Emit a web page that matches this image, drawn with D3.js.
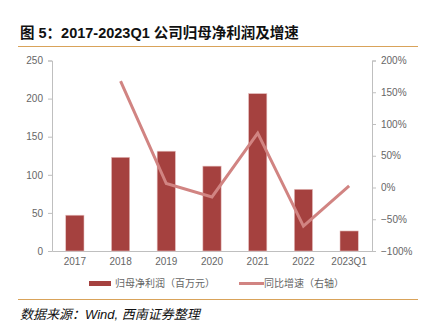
<!DOCTYPE html>
<html>
<head>
<meta charset="utf-8">
<script src="https://cdn.jsdelivr.net/npm/d3@7"></script>
<style>
  html, body { margin: 0; padding: 0; background: #fff; }
  svg { display: block; }
</style>
</head>
<body>
<svg id="chart" width="429" height="325"></svg>
<script>
// Net profit attributable to parent (million yuan) and YoY growth
const categories = ["2017", "2018", "2019", "2020", "2021", "2022", "2023Q1"];
const profit = [47, 123, 131, 111.4, 206.6, 81, 26.3];
const growth = [null, 167.6, 6.3, -14.8, 85.5, -60.8, 2.5];
const leftTicks = [0, 50, 100, 150, 200, 250];
const rightTicks = [-100, -50, 0, 50, 100, 150, 200];

const svg = d3.select("#chart");
const font = "Arial, 'Liberation Sans', 'Noto Sans CJK SC', sans-serif";
const grey = "#666666";
const axisGrey = "#bfbfbf";
const orange = "#d9a35a";

const plot = { left: 52, right: 372, top: 60.5, bottom: 251 };

const x = d3.scaleBand().domain(categories).range([plot.left, plot.right]).paddingInner(0.6).paddingOuter(0.3);
const yL = d3.scaleLinear().domain([0, 250]).range([plot.bottom, plot.top]);
const yR = d3.scaleLinear().domain([-100, 200]).range([plot.bottom, plot.top]);

// Title and rules
svg.append("text")
  .attr("x", 20).attr("y", 38)
  .attr("font-family", font)
  .attr("font-weight", "bold").attr("font-size", 14.5).attr("fill", "#111")
  .text("图 5：2017-2023Q1 公司归母净利润及增速");
svg.append("line").attr("x1", 18).attr("x2", 418).attr("y1", 46.5).attr("y2", 46.5)
  .attr("stroke", orange).attr("stroke-width", 1.2);
svg.append("line").attr("x1", 18).attr("x2", 418).attr("y1", 299.5).attr("y2", 299.5)
  .attr("stroke", orange).attr("stroke-width", 1.2);

// Axes
function styleAxis(g) {
  g.selectAll("path").attr("stroke", axisGrey);
  g.selectAll("line").attr("stroke", axisGrey);
  g.selectAll("text").attr("fill", grey).attr("font-size", 10).attr("font-family", font);
}
svg.append("g").attr("transform", `translate(${plot.left},0)`)
  .call(d3.axisLeft(yL).tickValues(leftTicks).tickSize(4).tickSizeOuter(4).tickPadding(5))
  .call(styleAxis);
svg.append("g").attr("transform", `translate(${plot.right},0)`)
  .call(d3.axisRight(yR).tickValues(rightTicks).tickSize(4).tickSizeOuter(4).tickPadding(5)
    .tickFormat(d => (d < 0 ? "\u2212" + Math.abs(d) : d) + "%"))
  .call(styleAxis);
const xAxis = svg.append("g").attr("transform", `translate(0,${plot.bottom})`)
  .call(d3.axisBottom(x).tickSize(0).tickSizeOuter(0).tickPadding(7))
  .call(styleAxis);
xAxis.select("path").attr("stroke-width", 1.2);

// Bars
svg.append("g").selectAll("rect").data(profit).join("rect")
  .attr("x", (d, i) => x(categories[i]))
  .attr("width", x.bandwidth())
  .attr("y", d => yL(d))
  .attr("height", d => yL(0) - yL(d))
  .attr("fill", "#a5413f")
  .attr("stroke", "#e8c4c3").attr("stroke-width", 0.6);

// Growth line (right axis)
const pts = growth.map((g, i) => ({ c: categories[i], g })).filter(d => d.g !== null);
svg.append("path").datum(pts)
  .attr("fill", "none").attr("stroke", "#d18482").attr("stroke-width", 3)
  .attr("stroke-linejoin", "miter")
  .attr("d", d3.line().x(d => x(d.c) + x.bandwidth() / 2).y(d => yR(d.g)));

// Legend
const lg = svg.append("g").attr("font-family", font).attr("font-size", 10).attr("fill", grey);
lg.append("rect").attr("x", 89).attr("y", 281).attr("width", 22).attr("height", 5).attr("fill", "#a5413f");
lg.append("text").attr("x", 115).attr("y", 287).text("归母净利润（百万元）");
lg.append("line").attr("x1", 239).attr("x2", 264).attr("y1", 283.5).attr("y2", 283.5)
  .attr("stroke", "#d18482").attr("stroke-width", 3);
lg.append("text").attr("x", 264).attr("y", 287).text("同比增速（右轴）");

// Source note
svg.append("text").attr("x", 20).attr("y", 319)
  .attr("font-family", font).attr("font-style", "italic").attr("font-size", 13).attr("fill", "#111")
  .text("数据来源：Wind,  西南证券整理");
</script>
</body>
</html>
